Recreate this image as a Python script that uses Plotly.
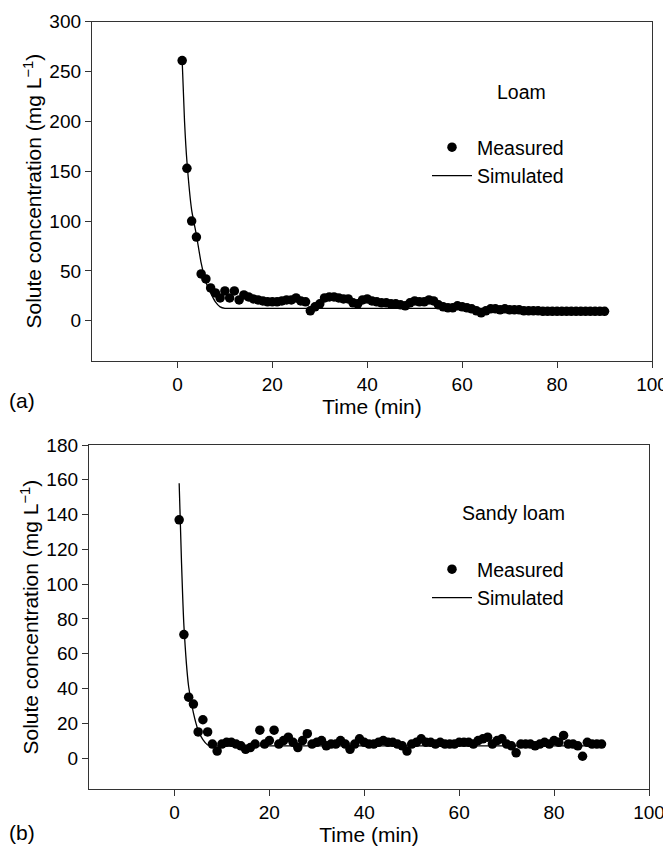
import plotly.graph_objects as go

# ---------- data ----------
# (a) Loam
loam_time = list(range(1, 91))
loam_measured = [261, 153, 100, 84, 47, 42, 33, 28, 23, 30,
                 23, 30, 21, 26, 24, 22, 21, 20, 19, 19,
                 19, 20, 21, 21, 23, 20, 19, 10, 14, 17,
                 23, 24, 24, 23, 22, 22, 18, 17, 21, 22,
                 20, 19, 18, 18, 17, 17, 16, 15, 18, 20,
                 19, 19, 21, 20, 16, 14, 13, 13, 15, 14,
                 13, 12, 10, 8, 10, 12, 12, 11, 12, 11,
                 11, 11, 10, 10, 10, 10, 9.5, 9.5, 9.5, 9.5,
                 9.5, 9.5, 9.5, 9.5, 9.5, 9.5, 9.5, 9.5, 9.5, 9.5]
loam_sim_time = [1, 1.5, 2, 3, 4, 5, 6, 7, 8, 9, 10, 11, 20, 40, 60, 80, 90]
loam_simulated = [261, 200, 160, 111, 86, 58, 39, 28, 19, 14, 12.5, 12.5, 12.5, 12.5, 12.5, 12.5, 12.5]

# (b) Sandy loam
sandy_time = list(range(1, 91))
sandy_measured = [137, 71, 35, 31, 15, 22, 15, 8, 4, 8,
                  9, 9, 8, 7, 5, 6, 8, 16, 8, 10,
                  16, 8, 10, 12, 9, 6, 10, 14, 8, 9,
                  10, 7, 8, 8, 10, 8, 5, 8, 11, 9,
                  8, 8, 9, 10, 9, 9, 8, 7, 4, 8,
                  9, 11, 9, 9, 8, 9, 8, 8, 8, 9,
                  9, 9, 8, 10, 11, 12, 8, 10, 11, 8,
                  7, 3, 8, 8, 8, 7, 8, 9, 8, 10,
                  9, 13, 8, 8, 7, 1, 9, 8, 8, 8]
sandy_sim_time = [1, 1.5, 2, 3, 4, 5, 6, 7, 8, 9, 20, 40, 60, 80, 90]
sandy_simulated = [158, 112, 76, 41, 26, 16, 10.5, 7.5, 7, 7, 7, 7, 7, 7, 7]

x_ticks = [0, 20, 40, 60, 80, 100]
y_ticks_a = [0, 50, 100, 150, 200, 250, 300]
y_ticks_b = [0, 20, 40, 60, 80, 100, 120, 140, 160, 180]

W, H = 671, 846
FONT = "Liberation Sans, Arial, sans-serif"
TICK = 19
TITLE = 21
LEG = 19.5


def px_x(p):
    return p / W


def px_y(p):
    return 1 - p / H


fig = go.Figure()

fig.add_trace(go.Scatter(x=loam_time, y=loam_measured, mode="markers", name="Measured",
                         marker=dict(color="black", size=9.5), xaxis="x", yaxis="y", legend="legend"))
fig.add_trace(go.Scatter(x=loam_sim_time, y=loam_simulated, mode="lines", name="Simulated",
                         line=dict(color="black", width=1.3, shape="spline", smoothing=0.5),
                         xaxis="x", yaxis="y", legend="legend"))
fig.add_trace(go.Scatter(x=sandy_time, y=sandy_measured, mode="markers", name="Measured",
                         marker=dict(color="black", size=9.5), xaxis="x2", yaxis="y2", legend="legend2"))
fig.add_trace(go.Scatter(x=sandy_sim_time, y=sandy_simulated, mode="lines", name="Simulated",
                         line=dict(color="black", width=1.3, shape="spline", smoothing=0.5),
                         xaxis="x2", yaxis="y2", legend="legend2"))

axis_common = dict(showline=True, linecolor="#333", linewidth=1.3, mirror=True,
                   ticks="outside", ticklen=6, tickwidth=1, tickcolor="#333",
                   showgrid=False, zeroline=False, automargin=False,
                   tickfont=dict(family=FONT, size=TICK, color="black"))

ytitle = "Solute concentration (mg L<sup>\u22121</sup>)"

fig.update_layout(
    width=W, height=H,
    margin=dict(l=0, r=0, t=0, b=0),
    paper_bgcolor="white", plot_bgcolor="white",
    font=dict(family=FONT, color="black"),
    xaxis=dict(domain=[px_x(84), px_x(644)], range=[-18, 100], tickvals=x_ticks,
               anchor="y", title=dict(text="Time (min)", font=dict(size=TITLE), standoff=0), **axis_common),
    yaxis=dict(domain=[px_y(352.7), px_y(13.7)], range=[-40, 300], tickvals=y_ticks_a,
               anchor="x", title=dict(text=ytitle, font=dict(size=TITLE), standoff=1),
               **axis_common),
    xaxis2=dict(domain=[px_x(81), px_x(641)], range=[-18, 100], tickvals=x_ticks,
                anchor="y2", title=dict(text="Time (min)", font=dict(size=TITLE), standoff=0), **axis_common),
    yaxis2=dict(domain=[px_y(781.3), px_y(437)], range=[-18, 180], tickvals=y_ticks_b,
                anchor="x2", title=dict(text=ytitle, font=dict(size=TITLE), standoff=1),
                **axis_common),
    legend=dict(x=px_x(419), y=px_y(120), xanchor="left", yanchor="top", itemwidth=40,
                font=dict(family=FONT, size=LEG), bgcolor="rgba(0,0,0,0)", tracegroupgap=0),
    legend2=dict(x=px_x(419), y=px_y(542), xanchor="left", yanchor="top", itemwidth=40,
                 font=dict(family=FONT, size=LEG), bgcolor="rgba(0,0,0,0)", tracegroupgap=0),
    annotations=[
        dict(text="Loam", x=px_x(513.7), y=px_y(83.7), xref="paper", yref="paper",
             xanchor="center", yanchor="middle", showarrow=False, font=dict(family=FONT, size=LEG)),
        dict(text="Sandy loam", x=px_x(506), y=px_y(505), xref="paper", yref="paper",
             xanchor="center", yanchor="middle", showarrow=False, font=dict(family=FONT, size=LEG)),
        dict(text="(a)", x=px_x(14), y=px_y(392), xref="paper", yref="paper",
             xanchor="center", yanchor="middle", showarrow=False, font=dict(family=FONT, size=TITLE)),
        dict(text="(b)", x=px_x(14), y=px_y(824), xref="paper", yref="paper",
             xanchor="center", yanchor="middle", showarrow=False, font=dict(family=FONT, size=TITLE)),
    ],
)

fig.write_html("out.html")
